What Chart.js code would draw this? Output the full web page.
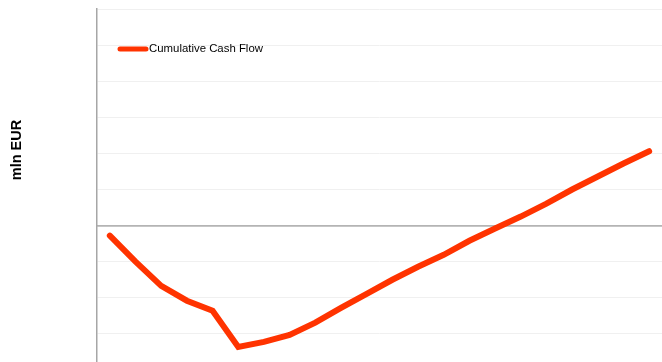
<!DOCTYPE html>
<html>
<head>
<meta charset="utf-8">
<script src="https://cdn.jsdelivr.net/npm/chart.js@4.4.1/dist/chart.umd.min.js"></script>
<style>
  html, body { margin: 0; padding: 0; overflow: hidden; background: #fff; }
  #wrap { position: relative; width: 662px; height: 376px; }
</style>
</head>
<body>
<div id="wrap"><canvas id="cashChart"></canvas></div>
<script>
  // Years on the category axis
  const years = ["2017", "2018", "2019", "2020", "2021", "2022", "2023", "2024", "2025", "2026", "2027",
    "2028", "2029", "2030", "2031", "2032", "2033", "2034", "2035", "2036", "2037", "2038"];

  // Cumulative cash flow, mln EUR
  const cumulativeCashFlow = [-2.8, -10.0, -16.7, -20.8, -23.6, -33.6, -32.2, -30.3, -26.9, -22.8, -18.9,
    -15.0, -11.4, -8.1, -4.2, -0.8, 2.5, 6.1, 10.0, 13.6, 17.2, 20.6];

  const lineColor = "#ff3300";

  // Legend sample and axis title drawn by hand
  const extrasPlugin = {
    id: "extras",
    afterDraw(chart) {
      const ctx = chart.ctx;
      ctx.save();
      ctx.strokeStyle = lineColor;
      ctx.lineWidth = 5;
      ctx.lineCap = "round";
      ctx.beginPath();
      ctx.moveTo(120, 49);
      ctx.lineTo(146, 49);
      ctx.stroke();
      ctx.fillStyle = "#000";
      ctx.font = "11.4px 'Liberation Sans', Arial, sans-serif";
      ctx.textBaseline = "middle";
      ctx.fillText("Cumulative Cash Flow", 149, 49);

      ctx.translate(17, 150);
      ctx.rotate(-Math.PI / 2);
      ctx.textAlign = "center";
      ctx.font = "bold 14.5px 'Liberation Sans', Arial, sans-serif";
      ctx.fillText("mln EUR", 0, 0);
      ctx.restore();
    },
  };

  new Chart(document.getElementById("cashChart"), {
    type: "line",
    data: {
      labels: years,
      datasets: [{
        label: "Cumulative Cash Flow",
        data: cumulativeCashFlow,
        borderColor: lineColor,
        backgroundColor: lineColor,
        borderWidth: 6,
        borderCapStyle: "round",
        borderJoinStyle: "miter",
        pointRadius: 0,
        tension: 0,
      }],
    },
    options: {
      responsive: true,
      maintainAspectRatio: false,
      animation: false,
      layout: { padding: { left: 97, top: 9, right: 0, bottom: 6 } },
      plugins: {
        legend: { display: false },
        tooltip: { enabled: false },
      },
      scales: {
        x: {
          position: { y: 0 },
          offset: true,
          z: 1, // white year labels sit on top of the line
          grid: { display: false },
          border: { color: "#b4b4b4", width: 1.5 },
          ticks: {
            color: "#ffffff",
            font: { family: "'Liberation Sans', Arial, sans-serif", size: 11 },
            maxRotation: 32,
            minRotation: 32,
            autoSkip: false,
          },
        },
        y: {
          min: -40,
          max: 60,
          ticks: { display: false, stepSize: 10 },
          grid: {
            drawTicks: false,
            color: (c) => (c.tick && c.tick.value === 0 ? "#b4b4b4" : "#f0f0f0"),
            lineWidth: (c) => (c.tick && c.tick.value === 0 ? 1.5 : 1),
          },
          border: { color: "#a6a6a6", width: 1.5 },
        },
      },
    },
    plugins: [extrasPlugin],
  });
</script>
</body>
</html>
